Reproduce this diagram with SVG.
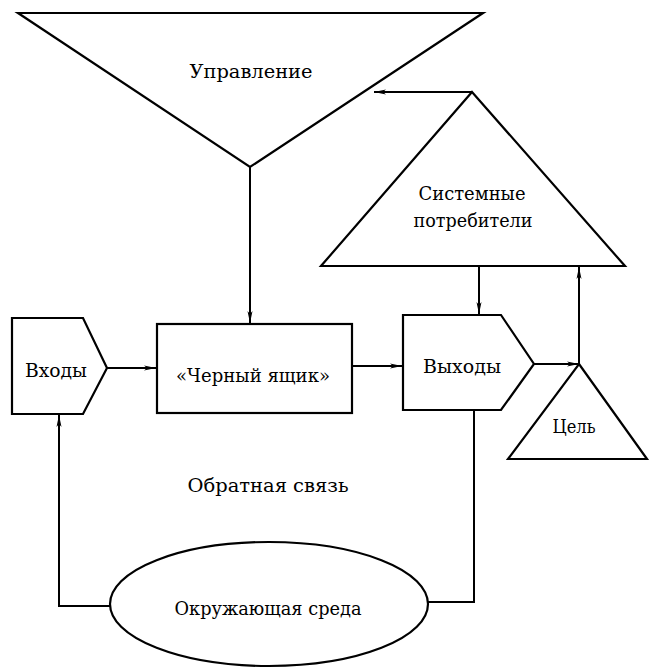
<svg xmlns="http://www.w3.org/2000/svg" width="650" height="668" viewBox="0 0 650 668">
<style>
.s{fill:#fff;stroke:#000;stroke-width:2.2;stroke-linejoin:miter}
.c{fill:none;stroke:#000;stroke-width:2}
text{font-family:"DejaVu Serif",serif;font-size:19px;fill:#000;text-anchor:middle}
</style>
<defs>
<marker id="a" markerWidth="12" markerHeight="6" refX="12" refY="3" orient="auto" markerUnits="userSpaceOnUse">
<path d="M0,0.5 L12,3 L0,5.5 L3,3 Z" fill="#000"/>
</marker>
</defs>
<rect width="650" height="668" fill="#fff"/>
<g id="control">
<polygon class="s" points="18,13 483,13 250,167"/>
<text x="251" y="78" textLength="123" lengthAdjust="spacingAndGlyphs">Управление</text>
</g>
<g id="consumers">
<polygon class="s" points="472,92 625,266 321,266"/>
<text x="472" y="200" textLength="107" lengthAdjust="spacingAndGlyphs">Системные</text>
<text x="473" y="227" textLength="119" lengthAdjust="spacingAndGlyphs">потребители</text>
</g>
<g id="inputs">
<polygon class="s" points="12,318 83,318 107,368 83,414 12,414"/>
<text x="56" y="377" textLength="62" lengthAdjust="spacingAndGlyphs">Входы</text>
</g>
<g id="blackbox">
<rect class="s" x="157" y="324" width="195" height="89"/>
<text x="253" y="382" textLength="154" lengthAdjust="spacingAndGlyphs">«Черный ящик»</text>
</g>
<g id="outputs">
<polygon class="s" points="403,315 501,315 534,364 501,410 403,410"/>
<text x="462" y="373" textLength="78" lengthAdjust="spacingAndGlyphs">Выходы</text>
</g>
<g id="goal">
<polygon class="s" points="579,364 647,459 508,459"/>
<text x="574" y="433" textLength="43" lengthAdjust="spacingAndGlyphs">Цель</text>
</g>
<g id="environment">
<ellipse class="s" cx="269" cy="604" rx="159" ry="62"/>
<text x="268" y="615" textLength="187" lengthAdjust="spacingAndGlyphs">Окружающая среда</text>
</g>
<g id="feedback-label">
<text x="268" y="492" textLength="161" lengthAdjust="spacingAndGlyphs">Обратная связь</text>
</g>
<g id="connectors">
<line class="c" x1="250" y1="167" x2="250" y2="323" marker-end="url(#a)"/>
<line class="c" x1="472" y1="92" x2="374" y2="92" marker-end="url(#a)"/>
<line class="c" x1="107" y1="368" x2="156" y2="368" marker-end="url(#a)"/>
<line class="c" x1="352" y1="366" x2="402" y2="366" marker-end="url(#a)"/>
<line class="c" x1="479" y1="266" x2="479" y2="314" marker-end="url(#a)"/>
<line class="c" x1="534" y1="364" x2="579" y2="364" marker-end="url(#a)"/>
<line class="c" x1="579" y1="364" x2="579" y2="267" marker-end="url(#a)"/>
<polyline class="c" points="474,410 474,602 428,602"/>
<polyline class="c" points="110,606 59,606 59,415" marker-end="url(#a)"/>
</g>
</svg>
